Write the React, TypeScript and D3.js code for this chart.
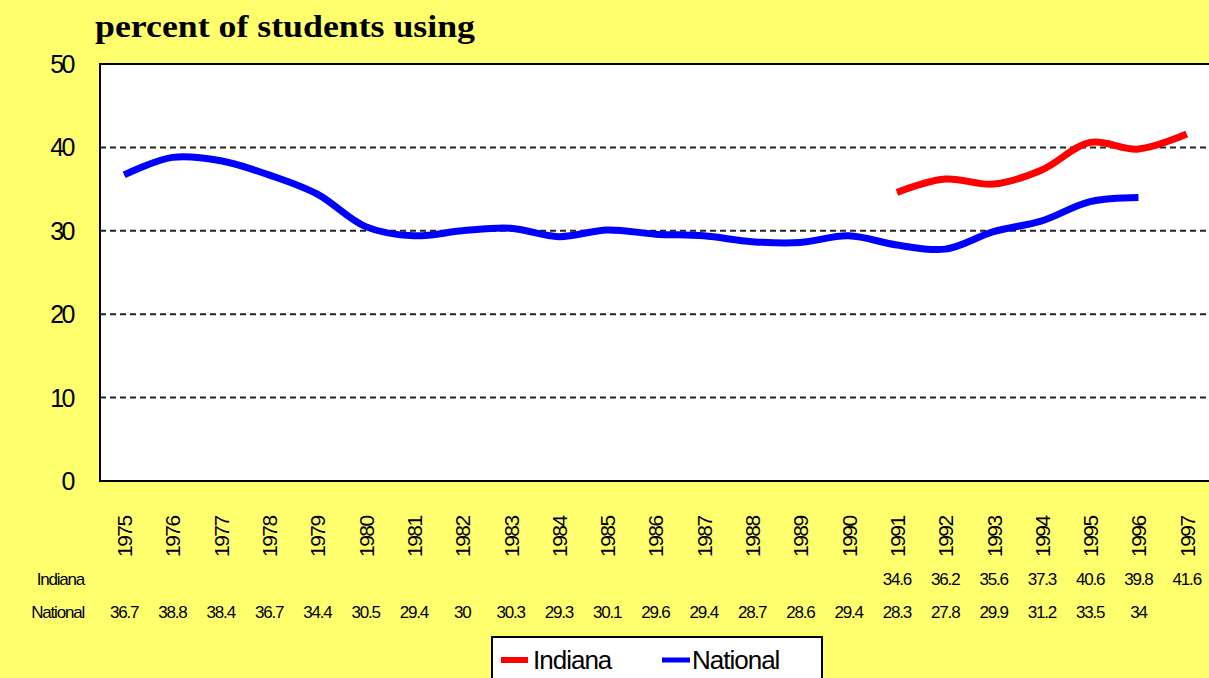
import React from "react";
import * as d3 from "d3";

const years = ["1975","1976","1977","1978","1979","1980","1981","1982","1983","1984","1985","1986","1987","1988","1989","1990","1991","1992","1993","1994","1995","1996","1997"];
const national: (number | null)[] = [36.7,38.8,38.4,36.7,34.4,30.5,29.4,30,30.3,29.3,30.1,29.6,29.4,28.7,28.6,29.4,28.3,27.8,29.9,31.2,33.5,34,null];
const indiana: (number | null)[] = [null,null,null,null,null,null,null,null,null,null,null,null,null,null,null,null,34.6,36.2,35.6,37.3,40.6,39.8,41.6];
const yTicks = [0,10,20,30,40,50];

const W = 1209, H = 678;
const left = 100, top = 64, bottom = 481;
const step = 48.3;
const right = left + years.length * step;

export default function App() {
  const x = d3.scaleBand<string>().domain(years).range([left, right]).padding(0);
  const cx = (y: string) => (x(y) as number) + x.bandwidth() / 2;
  const y = d3.scaleLinear().domain([0, 50]).range([bottom, top]);
  const line = d3.line<[string, number | null]>()
    .defined(d => d[1] != null)
    .x(d => cx(d[0]))
    .y(d => y(d[1] as number))
    .curve(d3.curveCatmullRom.alpha(0.5));
  const natPath = line(years.map((yr, i) => [yr, national[i]]));
  const indPath = line(years.map((yr, i) => [yr, indiana[i]]));
  const font = "'Liberation Sans', Arial, sans-serif";
  const fmt = (v: number | null) => (v == null ? "" : String(v));

  return (
    <svg width={W} height={H} style={{ position: "absolute", left: 0, top: 0 }}>
      <rect width={W} height={H} fill="#ffff6e" />
      <text x={95} y={37} fontFamily="'Liberation Serif', 'Times New Roman', serif" fontWeight="bold" fontSize={31} textLength={380} lengthAdjust="spacingAndGlyphs" fill="#000">percent of students using</text>
      <rect x={left} y={top} width={right - left} height={bottom - top} fill="#fff" stroke="#000" strokeWidth={2} />
      {yTicks.filter(t => t > 0 && t < 50).map(t => (
        <line key={t} x1={left} x2={right} y1={y(t)} y2={y(t)} stroke="#222" strokeWidth={2} strokeDasharray="6 4" />
      ))}
      {yTicks.map(t => (
        <text key={t} x={73} y={y(t) + 9} textAnchor="end" fontFamily={font} fontSize={25} letterSpacing={-2.5} fill="#000">{t}</text>
      ))}
      <path d={natPath || ""} fill="none" stroke="#0000ff" strokeWidth={7} strokeLinejoin="round" />
      <path d={indPath || ""} fill="none" stroke="#ff0000" strokeWidth={7} strokeLinejoin="round" />
      {years.map(yr => (
        <text key={yr} transform={`translate(${cx(yr) + 8},${557}) rotate(-90)`} fontFamily={font} fontSize={21} letterSpacing={-1.5} fill="#000">{yr}</text>
      ))}
      <text x={84} y={585} textAnchor="end" fontFamily={font} fontSize={17} letterSpacing={-1.2} fill="#000">Indiana</text>
      <text x={84} y={618} textAnchor="end" fontFamily={font} fontSize={17} letterSpacing={-1.2} fill="#000">National</text>
      {years.map((yr, i) => (
        <text key={"i" + yr} x={cx(yr)} y={585} textAnchor="middle" fontFamily={font} fontSize={17} letterSpacing={-1.2} fill="#000">{fmt(indiana[i])}</text>
      ))}
      {years.map((yr, i) => (
        <text key={"n" + yr} x={cx(yr)} y={618} textAnchor="middle" fontFamily={font} fontSize={17} letterSpacing={-1.2} fill="#000">{fmt(national[i])}</text>
      ))}
      <rect x={492} y={637} width={330} height={60} fill="#fff" stroke="#000" strokeWidth={2} />
      <line x1={501} x2={528} y1={660} y2={660} stroke="#ff0000" strokeWidth={6} />
      <text x={533} y={669} fontFamily={font} fontSize={26} letterSpacing={-1} fill="#000">Indiana</text>
      <line x1={662} x2={690} y1={660} y2={660} stroke="#0000ff" strokeWidth={5} />
      <text x={692} y={669} fontFamily={font} fontSize={26} letterSpacing={-1} fill="#000">National</text>
    </svg>
  );
}
